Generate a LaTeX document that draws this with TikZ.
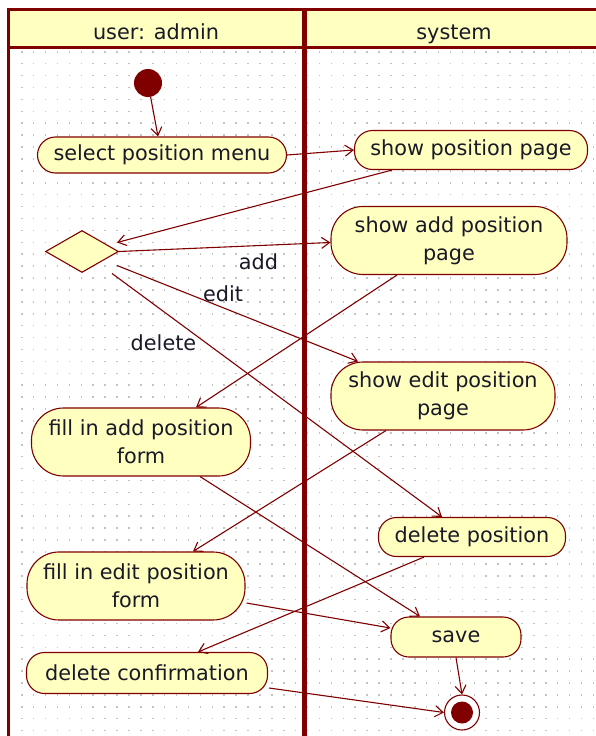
\documentclass[tikz,border=0pt]{standalone}
\usepackage{fontspec}
\setmainfont{DejaVu Sans}
\usetikzlibrary{positioning}
\usetikzlibrary{calc}
\usetikzlibrary{arrows.meta}
\usetikzlibrary{shapes.geometric}
\definecolor{umlred}{RGB}{128,0,0}
\definecolor{umlfill}{RGB}{255,255,192}
\definecolor{griddot}{RGB}{195,195,195}
\definecolor{umltext}{RGB}{25,25,40}

\begin{document}
\begin{tikzpicture}[x=1pt,y=-1pt,
	>={Straight Barb[length=8pt,width=11pt]},
	every node/.style={font=\fontsize{20.8}{28}\selectfont,text=umltext},
	act/.style={draw=umlred,fill=umlfill,line width=1.1pt,rounded corners=18pt,inner sep=0pt,align=center},
	act2/.style={act,rounded corners=32pt,minimum height=68pt},
	flow/.style={->,draw=umlred,line width=1.1pt}]
	\useasboundingbox (0,0) rectangle (596,736);
	\fill [white] (0,0) rectangle (596,736);
	\foreach \i in {0,...,48}
		\foreach \j in {0,...,57}
			\fill [griddot] (21+11.91*\i,51+11.91*\j) rectangle +(1.5,1.5);

	\fill [umlfill] (8.5,9.5) rectangle (596,47.5);
	\draw [umlred,line width=3pt] (596,9.5) -- (8.5,9.5) -- (8.5,736);
	\draw [umlred,line width=3pt] (8.5,47.5) -- (596,47.5);
	\draw [umlred,line width=5.5pt] (304.7,9.5) -- (304.7,736);
	\node [anchor=base] (lane1) at (156,39.3) {user: admin};
	\node [anchor=base] (lane2) at (454,39.3) {system};

	\node [circle,fill=umlred,minimum size=28pt,inner sep=0pt] (initial) at (148,83) {};
	\node [act,minimum width=249pt,minimum height=36pt] (sel) at (162,155) {select position menu};
	\node [act,minimum width=233pt,minimum height=39pt] (showpos) at (471,150) {show position page};
	\node [diamond,draw=umlred,fill=umlfill,line width=1.1pt,minimum width=73pt,minimum height=42pt,inner sep=0pt] (dec) at (82,251.5) {};
	\node [act2,minimum width=236pt] (showadd) at (449,240.5) {show add position\\page};
	\node [act2,minimum width=224pt] (showedit) at (443,396) {show edit position\\page};
	\node [act2,minimum width=219pt] (filladd) at (141,442) {fill in add position\\form};
	\node [act,minimum width=187pt,minimum height=39pt] (delpos) at (472,537) {delete position};
	\node [act2,minimum width=218pt] (filledit) at (136,586) {fill in edit position\\form};
	\node [act,minimum width=130pt,minimum height=40pt] (save) at (456,637) {save};
	\node [act,minimum width=241pt,minimum height=41pt] (delconf) at (147,673) {delete confirmation};
	\node [circle,draw=umlred,fill=white,line width=1.1pt,minimum size=35pt,inner sep=0pt] (final) at (462,712.5) {};
	\fill [umlred] (final) circle (11pt);

	\draw [flow] (initial) -- ($(sel.north)+(-4,0)$);
	\draw [flow] (sel.east) -- (showpos.west);
	\draw [flow] ($(showpos.south)+(-79,0)$) -- ($(dec.east)+(-2,-9)$);
	\draw [flow] (dec.east) -- ($(showadd.west)+(0,2)$);
	\draw [flow] ($(dec.east)+(-2,14)$) -- ($(showedit.north)+(-85,0)$);
	\draw [flow] ($(dec.east)+(-7,22)$) -- ($(delpos.north)+(-30,0)$);
	\draw [flow] ($(showadd.south)+(-52,0)$) -- ($(filladd.north)+(55,0)$);
	\draw [flow] ($(showedit.south)+(-57,0)$) -- ($(filledit.north)+(57,0)$);
	\draw [flow] ($(filladd.south)+(59,0)$) -- ($(save.north)+(-36,0)$);
	\draw [flow] ($(delpos.south)+(-48,0)$) -- ($(delconf.north)+(51,0)$);
	\draw [flow] ($(filledit.east)+(1,17)$) -- ($(save.west)+(0,-9)$);
	\draw [flow] (save.south) -- (final.north);
	\draw [flow] ($(delconf.east)+(1,15)$) -- (final.west);

	\node [anchor=base] (addlbl) at (258.5,269) {add};
	\node [anchor=base] (editlbl) at (223,301.7) {edit};
	\node [anchor=base] (dellbl) at (163.5,350) {delete};
\end{tikzpicture}
\end{document}
